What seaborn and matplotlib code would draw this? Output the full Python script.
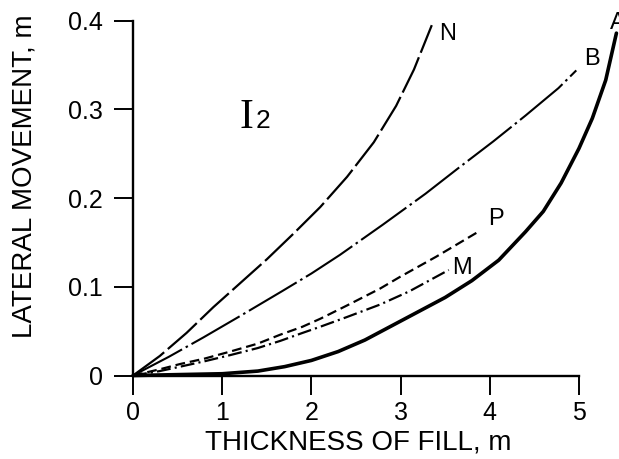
import matplotlib
matplotlib.use("Agg")
import matplotlib.pyplot as plt
import seaborn as sns
import pandas as pd

# ---- data ----
n_x = [0, 0.3, 0.6, 0.9, 1.2, 1.5, 1.8, 2.1, 2.4, 2.7, 2.95, 3.15, 3.35]
n_y = [0, 0.022, 0.048, 0.077, 0.104, 0.131, 0.160, 0.190, 0.224, 0.263, 0.304, 0.345, 0.395]

b_x = [0, 0.4, 0.79, 1.2, 1.67, 2.0, 2.32, 2.8, 3.28, 3.65, 4.04, 4.4, 4.77, 4.97]
b_y = [0, 0.021, 0.043, 0.067, 0.095, 0.115, 0.136, 0.170, 0.205, 0.234, 0.264, 0.293, 0.324, 0.344]

p_x = [0, 0.3, 0.53, 0.8, 1.09, 1.4, 1.65, 1.9, 2.1, 2.4, 2.77, 2.99, 3.4, 3.87]
p_y = [0, 0.007, 0.013, 0.019, 0.027, 0.036, 0.046, 0.055, 0.064, 0.079, 0.098, 0.111, 0.134, 0.162]

m_x = [0, 0.3, 0.53, 0.8, 1.09, 1.4, 1.65, 1.9, 2.1, 2.4, 2.77, 3.1, 3.54]
m_y = [0, 0.005, 0.010, 0.016, 0.023, 0.031, 0.039, 0.048, 0.055, 0.066, 0.080, 0.095, 0.119]

a_x = [0, 0.5, 1.0, 1.4, 1.7, 2.0, 2.3, 2.6, 2.9, 3.2, 3.5, 3.8, 4.1, 4.4,
       4.6, 4.8, 5.0, 5.15, 5.3, 5.42]
a_y = [0, 0.001, 0.002, 0.005, 0.010, 0.017, 0.027, 0.040, 0.056, 0.072, 0.088,
       0.107, 0.130, 0.162, 0.185, 0.217, 0.256, 0.290, 0.333, 0.386]

x_ticks = [0, 1, 2, 3, 4, 5]
x_tick_labels = ["0", "1", "2", "3", "4", "5"]
y_ticks = [0, 0.1, 0.2, 0.3, 0.4]
y_tick_labels = ["0", "0.1", "0.2", "0.3", "0.4"]

curve_labels = ["N", "B", "P", "M", "A"]

# ---- style ----
sns.set_style("ticks")
plt.rcParams["font.family"] = ["Liberation Sans", "DejaVu Sans"]
plt.rcParams["lines.scale_dashes"] = False
for key in ("text.color", "axes.labelcolor", "xtick.color", "ytick.color",
            "axes.edgecolor"):
    plt.rcParams[key] = "black"

fig = plt.figure(figsize=(6.19, 4.59), dpi=100)
ax = fig.add_axes([0.2149, 0.1819, 0.7851, 0.8116])

series = [
    (n_x, n_y, dict(lw=1.6, dashes=(28, 3.5))),
    (b_x, b_y, dict(lw=1.5, dashes=(40, 3, 1.8, 3))),
    (p_x, p_y, dict(lw=1.6, dashes=(7, 3.5))),
    (m_x, m_y, dict(lw=1.6, dashes=(10, 3, 1.5, 3))),
    (a_x, a_y, dict(lw=2.6)),
]
for xs, ys, kw in series:
    df = pd.DataFrame({"x": xs, "y": ys})
    line_kw = {k: v for k, v in kw.items() if k != "dashes"}
    sns.lineplot(data=df, x="x", y="y", ax=ax, color="black", estimator=None,
                 sort=False, clip_on=False, **line_kw)
    ln = ax.lines[-1]
    ln.set_solid_joinstyle("round")
    ln.set_dash_joinstyle("round")
    if "dashes" in kw:
        ln.set_dashes(kw["dashes"])

ax.set_xlim(0, 5.449)
ax.set_ylim(0, 0.42)
ax.spines["top"].set_visible(False)
ax.spines["right"].set_visible(False)
ax.spines["bottom"].set_bounds(0, 5)
ax.spines["left"].set_bounds(0, 0.4)
for s in ("bottom", "left"):
    ax.spines[s].set_linewidth(1.7)

ax.set_xticks(x_ticks)
ax.set_xticklabels(x_tick_labels)
ax.set_yticks(y_ticks)
ax.set_yticklabels(y_tick_labels)
ax.tick_params(axis="both", direction="out", length=13.5, width=1.4,
               labelsize=18, colors="black")
ax.tick_params(axis="x", pad=5)
ax.tick_params(axis="y", pad=8)

ax.set_xlabel("THICKNESS OF FILL, m", fontsize=20)
ax.set_ylabel("LATERAL MOVEMENT, m", fontsize=20)
ax.xaxis.set_label_coords(0.463, -0.146)
ax.yaxis.set_label_coords(-0.197, 0.535)

# curve labels (A sits at the right edge, partly cut as in the original)
label_pos = [(3.53, 0.385), (5.15, 0.357), (4.07, 0.177), (3.69, 0.121), (5.44, 0.397)]
for txt, (lx, ly) in zip(curve_labels, label_pos):
    ax.text(lx, ly, txt, fontsize=17, ha="center", va="center", clip_on=False)

# panel marker I2
ax.text(1.355, 0.279, "I", family="Liberation Serif", fontsize=30,
        ha="right", va="baseline")
ax.text(1.37, 0.279, "2", fontsize=19, ha="left", va="baseline")

fig.savefig("out.png", dpi=100)
